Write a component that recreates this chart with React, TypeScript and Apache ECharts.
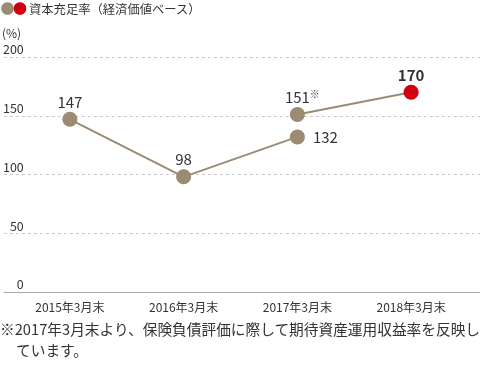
import React, { useEffect, useRef } from "react";
import * as echarts from "echarts";

const categories = ["2015年3月末", "2016年3月末", "2017年3月末", "2018年3月末"];
const beforeValues = [147, 98, 132, null];
const afterValues = [null, null, 151, 170];
const yTicks = [0, 50, 100, 150, 200];
const legendText = "資本充足率（経済価値ベース）";
const unitText = "(%)";
const noteLine1 = "※2017年3月末より、保険負債評価に際して期待資産運用収益率を反映し";
const noteLine2 = "ています。";

const BROWN = "#9c8b73";
const RED = "#d0000f";
const FONT = "'Noto Sans CJK JP', 'Noto Sans', sans-serif";

export default function App() {
  const ref = useRef<HTMLDivElement>(null);
  useEffect(() => {
    const chart = echarts.init(ref.current!, null, { renderer: "svg" });
    const option: any = {
      animation: false,
      textStyle: { fontFamily: FONT },
      grid: [
        { left: 0, right: 0, top: 57, bottom: 73 },
        { left: 13, right: 12, top: 57, bottom: 73 },
      ],
      xAxis: [
        {
          gridIndex: 0,
          type: "category",
          data: categories,
          axisLine: { show: true, lineStyle: { color: "#aaa", width: 1 } },
          axisTick: { show: false },
          axisLabel: { show: false },
        },
        {
          gridIndex: 1,
          type: "category",
          data: categories,
          axisLine: { show: false },
          axisTick: { show: false },
          axisLabel: { color: "#333", fontSize: 12, margin: 8, fontFamily: FONT },
        },
      ],
      yAxis: [
        {
          gridIndex: 0,
          type: "value",
          min: yTicks[0],
          max: yTicks[yTicks.length - 1],
          interval: 50,
          axisLine: { show: false },
          axisTick: { show: false },
          splitLine: { show: true, lineStyle: { color: "#c8c8c8", type: [3, 3], width: 1 } },
          axisLabel: {
            inside: true,
            align: "right",
            verticalAlign: "bottom",
            margin: 20,
            padding: [0, 0, 2, 0],
            color: "#333",
            fontSize: 12.5,
            fontFamily: FONT,
            showMaxLabel: true,
            showMinLabel: true,
          },
        },
        {
          gridIndex: 1,
          type: "value",
          min: yTicks[0],
          max: yTicks[yTicks.length - 1],
          interval: 50,
          show: false,
          splitLine: { show: false },
        },
      ],
      graphic: [
        { type: "circle", shape: { cx: 7.5, cy: 8.5, r: 6.3 }, style: { fill: BROWN } },
        { type: "circle", shape: { cx: 20, cy: 8.5, r: 6.3 }, style: { fill: RED } },
        {
          type: "text",
          x: 29,
          y: 9,
          style: { text: legendText, fill: "#333", fontSize: 12.3, fontFamily: FONT, verticalAlign: "middle" },
        },
        {
          type: "text",
          x: 2,
          y: 32,
          style: { text: unitText, fill: "#333", fontSize: 12, fontFamily: FONT, verticalAlign: "middle" },
        },
        {
          type: "text",
          x: 0,
          y: 328,
          style: { text: noteLine1, fill: "#333", fontSize: 14.7, fontFamily: FONT, verticalAlign: "middle" },
        },
        {
          type: "text",
          x: 16,
          y: 349,
          style: { text: noteLine2, fill: "#333", fontSize: 14.7, fontFamily: FONT, verticalAlign: "middle" },
        },
      ],
      series: [
        {
          type: "line",
          xAxisIndex: 1,
          yAxisIndex: 1,
          data: beforeValues.map((v, i) => ({
            value: v,
            label:
              i === 2
                ? { position: "right", distance: 8 }
                : { position: "top", distance: 3 },
          })),
          symbol: "circle",
          symbolSize: 15,
          lineStyle: { color: BROWN, width: 2 },
          itemStyle: { color: BROWN },
          connectNulls: false,
          label: { show: true, color: "#333", fontSize: 15, fontFamily: FONT },
          z: 3,
        },
        {
          type: "line",
          xAxisIndex: 1,
          yAxisIndex: 1,
          data: afterValues.map((v, i) => ({
            value: v,
            itemStyle: { color: i === 3 ? RED : BROWN },
            label:
              i === 3
                ? { position: "top", distance: 3, fontWeight: "bold" }
                : {
                    position: "top",
                    distance: 3,
                    offset: [5, 0],
                    formatter: "{a|{c}}{b|※}",
                    rich: {
                      a: { fontSize: 15, color: "#333", fontFamily: FONT },
                      b: { fontSize: 10, color: "#333", fontFamily: FONT, verticalAlign: "top", padding: [0, 0, 6, 0] },
                    },
                  },
          })),
          symbol: "circle",
          symbolSize: 15,
          lineStyle: { color: BROWN, width: 2 },
          label: { show: true, color: "#333", fontSize: 15, fontFamily: FONT },
          z: 3,
        },
      ],
    };
    chart.setOption(option);
    return () => chart.dispose();
  }, []);
  return <div ref={ref} style={{ position: "fixed", left: 0, top: 0, width: 480, height: 365 }} />;
}
